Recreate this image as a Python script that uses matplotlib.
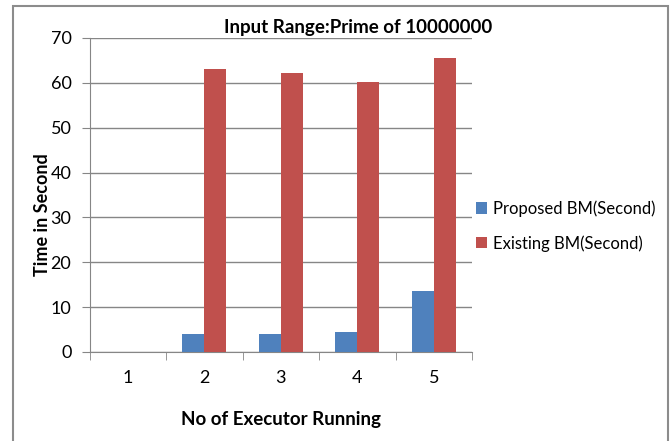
import matplotlib.pyplot as plt
import matplotlib.patches as patches
import numpy as np

categories = ["1", "2", "3", "4", "5"]
proposed = [0, 4.0, 4.0, 4.5, 13.7]
existing = [0, 63.1, 62.3, 60.1, 65.5]
yticks = [0, 10, 20, 30, 40, 50, 60, 70]

plt.rcParams['font.family'] = ['Lato', 'DejaVu Sans']

W, H = 671, 441
fig = plt.figure(figsize=(W / 100, H / 100), dpi=100)
ax = fig.add_axes([89.5 / W, 1 - 352 / H, (472 - 89.5) / W, (352 - 38) / H])

# outer chart frame
fig.add_artist(patches.Rectangle((13 / W, -0.05), (668 - 13) / W, 1.05 - 6 / H,
                                 transform=fig.transFigure, fill=False,
                                 edgecolor='#8c8c8c', linewidth=1.5))

x = np.arange(len(categories))
bw = 0.29
grid_c = '#868686'
ax.bar(x - bw / 2, proposed, bw, color='#4F81BD', label='Proposed BM(Second)', zorder=3)
ax.bar(x + bw / 2, existing, bw, color='#C0504D', label='Existing BM(Second)', zorder=3)

ax.set_xlim(-0.5, len(categories) - 0.5)
ax.set_ylim(0, 70)
ax.set_yticks(yticks)
ax.set_xticks(x)
ax.set_xticklabels(categories)
ax.set_xticks(np.arange(-0.5, len(categories), 1), minor=True)
ax.tick_params(axis='x', which='major', length=0, pad=13, labelsize=13)
ax.tick_params(axis='x', which='minor', length=6, color=grid_c, direction='out')
ax.tick_params(axis='y', length=6, color=grid_c, labelsize=13, pad=7)
ax.yaxis.grid(True, color=grid_c, linewidth=1, zorder=0)
for s in ['top', 'right']:
    ax.spines[s].set_visible(False)
for s in ['left', 'bottom']:
    ax.spines[s].set_color(grid_c)

fig.text(358 / W, 1 - 27 / H, 'Input Range:Prime of 10000000', ha='center', va='center',
         fontsize=13.5, fontweight='bold')
fig.text(42 / W, 1 - 215 / H, 'Time in Second', ha='center', va='center', rotation=90,
         fontsize=13, fontweight='bold')
fig.text(281 / W, 1 - 420 / H, 'No of Executor Running', ha='center', va='center',
         fontsize=13.5, fontweight='bold')

ax.legend(loc='center left', bbox_to_anchor=(461 / W, 1 - 226 / H),
          bbox_transform=fig.transFigure, frameon=False, fontsize=12,
          handlelength=0.65, handleheight=0.65, handletextpad=0.35, labelspacing=1.1)

fig.savefig('out.png', dpi=100)
